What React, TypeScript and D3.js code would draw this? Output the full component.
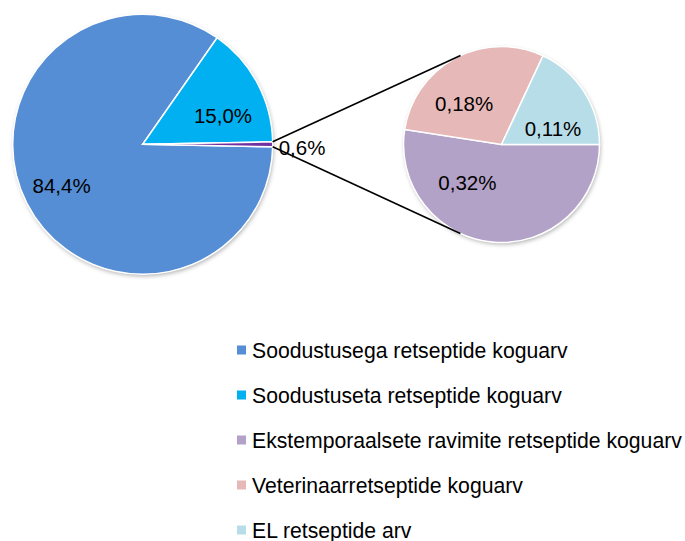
import { useRef, useEffect } from 'react';
import * as d3 from 'd3';

const MAIN_NAMES = ['Soodustusega retseptide koguarv', 'Soodustuseta retseptide koguarv', 'Muud'];
const MAIN_VALUES = [84.4, 15.0, 0.6];
const MAIN_LABELS = ['84,4%', '15,0%', '0,6%'];

const SUB_NAMES = ['Ekstemporaalsete ravimite retseptide koguarv', 'Veterinaarretseptide koguarv', 'EL retseptide arv'];
const SUB_VALUES = [0.32, 0.18, 0.11];
const SUB_LABELS = ['0,32%', '0,18%', '0,11%'];

const LEGEND_NAMES = [MAIN_NAMES[0], MAIN_NAMES[1], ...SUB_NAMES];

const MAIN_COLORS = ['#558ED5', '#00B0F0', '#7030A0'];
const SUB_COLORS = ['#B3A2C7', '#E6B9B8', '#B7DEE8'];
const LEGEND_COLORS = [MAIN_COLORS[0], MAIN_COLORS[1], ...SUB_COLORS];

const W = 685;
const H = 541;
const FONT = '"Liberation Sans", Arial, sans-serif';

export default function App() {
  const svgRef = useRef<SVGSVGElement>(null);

  useEffect(() => {
    const svg = d3.select(svgRef.current);
    svg.selectAll('*').remove();
    svg.attr('width', W).attr('height', H);

    const defs = svg.append('defs');
    defs.append('filter')
      .attr('id', 'shadow')
      .attr('x', '-10%').attr('y', '-10%').attr('width', '120%').attr('height', '120%')
      .append('feDropShadow')
      .attr('dx', 1).attr('dy', 2).attr('stdDeviation', 2)
      .attr('flood-color', '#000').attr('flood-opacity', 0.3);

    // main pie
    const c1 = { x: 142.7, y: 144.3, r: 130 };
    const total = d3.sum(MAIN_VALUES);
    const otherShare = MAIN_VALUES[2] / total;
    const a0 = Math.PI / 2 + otherShare * Math.PI;
    const mainPie = d3.pie<number>().sort(null).startAngle(a0).endAngle(a0 + 2 * Math.PI);
    const mainArcs = mainPie(MAIN_VALUES);
    const arc1 = d3.arc<d3.PieArcDatum<number>>().innerRadius(0).outerRadius(c1.r);
    const lab1 = d3.arc<d3.PieArcDatum<number>>().innerRadius(c1.r * 0.7).outerRadius(c1.r * 0.7);

    const g1 = svg.append('g').attr('transform', `translate(${c1.x},${c1.y})`);
    g1.append('circle').attr('r', c1.r).attr('fill', '#fff').attr('filter', 'url(#shadow)');
    g1.selectAll('path')
      .data(mainArcs)
      .join('path')
      .attr('d', arc1)
      .attr('fill', (d, i) => MAIN_COLORS[i])
      .attr('stroke', '#fff')
      .attr('stroke-width', 1.5);

    // secondary pie
    const c2 = { x: 501.5, y: 144.5, r: 98 };
    const subPie = d3.pie<number>().sort(null).startAngle(Math.PI / 2).endAngle(Math.PI / 2 + 2 * Math.PI);
    const subArcs = subPie(SUB_VALUES);
    const arc2 = d3.arc<d3.PieArcDatum<number>>().innerRadius(0).outerRadius(c2.r);
    const lab2 = d3.arc<d3.PieArcDatum<number>>().innerRadius(c2.r * 0.55).outerRadius(c2.r * 0.55);

    const g2 = svg.append('g').attr('transform', `translate(${c2.x},${c2.y})`);
    g2.append('circle').attr('r', c2.r).attr('fill', '#fff').attr('filter', 'url(#shadow)');
    g2.selectAll('path')
      .data(subArcs)
      .join('path')
      .attr('d', arc2)
      .attr('fill', (d, i) => SUB_COLORS[i])
      .attr('stroke', '#fff')
      .attr('stroke-width', 1.5);

    // connector lines: from the small slice edges, tangent to the secondary pie
    const other = mainArcs[2];
    [other.startAngle, other.endAngle].forEach((a, k) => {
      const sx = c1.x + c1.r * Math.sin(a);
      const sy = c1.y - c1.r * Math.cos(a);
      const dx = sx - c2.x;
      const dy = sy - c2.y;
      const d = Math.hypot(dx, dy);
      const base = Math.atan2(dy, dx);
      const theta = Math.acos(c2.r / d);
      const ang = base + (k === 0 ? theta : -theta);
      const tx = c2.x + c2.r * Math.cos(ang);
      const ty = c2.y + c2.r * Math.sin(ang);
      svg.append('line')
        .attr('x1', sx).attr('y1', sy)
        .attr('x2', tx).attr('y2', ty)
        .attr('stroke', '#000')
        .attr('stroke-width', 1.6);
    });

    // labels
    const mainNudge = [[0, 0], [0, 14]];
    mainArcs.slice(0, 2).forEach((d, i) => {
      const [x, y] = lab1.centroid(d);
      g1.append('text')
        .attr('x', x + mainNudge[i][0])
        .attr('y', y + mainNudge[i][1])
        .attr('dy', '0.36em')
        .attr('text-anchor', 'middle')
        .text(MAIN_LABELS[i]);
    });
    g1.append('text')
      .attr('x', c1.r + 6)
      .attr('y', 3)
      .attr('dy', '0.36em')
      .text(MAIN_LABELS[2]);

    const subNudge = [[-30, -16], [-12, 7], [6, 13]];
    subArcs.forEach((d, i) => {
      const [x, y] = lab2.centroid(d);
      g2.append('text')
        .attr('x', x + subNudge[i][0])
        .attr('y', y + subNudge[i][1])
        .attr('dy', '0.36em')
        .attr('text-anchor', 'middle')
        .text(SUB_LABELS[i]);
    });

    svg.selectAll('text')
      .attr('font-family', FONT)
      .attr('font-size', 20.5)
      .attr('fill', '#000');

    // legend
    const rowY = d3.scalePoint<string>().domain(LEGEND_NAMES).range([350, 530]);
    const lg = svg.append('g');
    LEGEND_NAMES.forEach((name, i) => {
      const y = rowY(name)!;
      lg.append('rect')
        .attr('x', 237).attr('y', y - 4.5)
        .attr('width', 9).attr('height', 9)
        .attr('fill', LEGEND_COLORS[i]);
      lg.append('text')
        .attr('x', 252).attr('y', y)
        .attr('dy', '0.36em')
        .attr('font-family', FONT)
        .attr('font-size', 21.2)
        .attr('fill', '#000')
        .text(name);
    });
  }, []);

  return <svg ref={svgRef} style={{ position: 'absolute', left: 0, top: 0, display: 'block' }} />;
}
